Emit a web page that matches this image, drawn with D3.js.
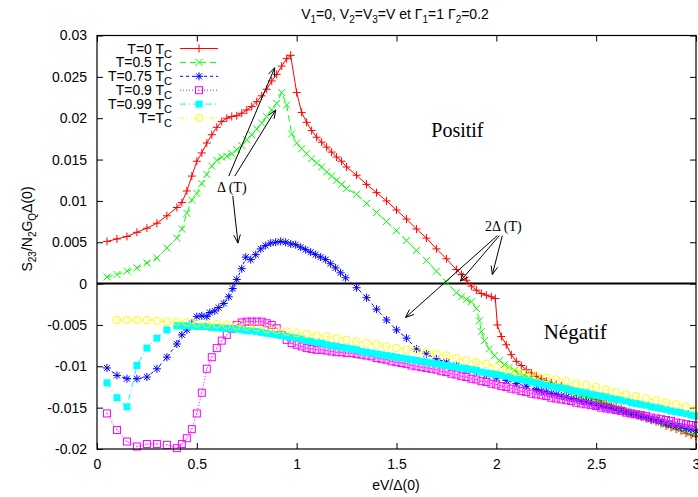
<!DOCTYPE html>
<html><head><meta charset="utf-8">
<script src="https://cdn.jsdelivr.net/npm/d3@7"></script>
<style>body{margin:0;background:#fff}svg{display:block}</style>
</head><body><svg id="c" width="698" height="497" font-family="Liberation Sans, Arial, sans-serif"></svg>
<script>
const xTicks=[0,0.5,1,1.5,2,2.5,3];
const yTicks=[-0.02,-0.015,-0.01,-0.005,0,0.005,0.01,0.015,0.02,0.025,0.03];
const seriesLabels=["T=0 T","T=0.5 T","T=0.75 T","T=0.9 T","T=0.99 T","T=T"];

const t0=[[0.05,0.0051],[0.10,0.0054],[0.15,0.0057],[0.20,0.0062],[0.25,0.0067],[0.30,0.0073],[0.35,0.0082],[0.40,0.0092],[0.425,0.0098],[0.45,0.0112],[0.475,0.0130],[0.50,0.0148],[0.525,0.0158],[0.55,0.0170],[0.575,0.0180],[0.60,0.0189],[0.625,0.0196],[0.65,0.0200],[0.675,0.0202],[0.70,0.0203],[0.725,0.0206],[0.75,0.0210],[0.775,0.0214],[0.80,0.0220],[0.825,0.0227],[0.85,0.0235],[0.875,0.0245],[0.90,0.0253],[0.925,0.0263],[0.95,0.0272],[0.97,0.0276],[1.00,0.0231],[1.025,0.0207],[1.05,0.0195],[1.075,0.0185],[1.10,0.0177],[1.125,0.0171],[1.15,0.0165],[1.175,0.0159],[1.20,0.0153],[1.225,0.0148],[1.25,0.0141],[1.30,0.0131],[1.35,0.0120],[1.40,0.0110],[1.45,0.0100],[1.50,0.0089],[1.55,0.0078],[1.60,0.0066],[1.65,0.0055],[1.70,0.0042],[1.75,0.0030],[1.80,0.0017],[1.825,0.0011],[1.85,0.0004],[1.875,-0.0003],[1.90,-0.0008],[1.925,-0.0012],[1.95,-0.0014],[1.975,-0.0016],[1.995,-0.0018],[2.005,-0.0050],[2.025,-0.0064],[2.05,-0.0074],[2.075,-0.0086],[2.10,-0.0094],[2.125,-0.0099],[2.15,-0.0104],[2.175,-0.0108],[2.20,-0.0112],[2.225,-0.0115],[2.25,-0.0118],[2.275,-0.0120],[2.30,-0.0122],[2.325,-0.0124],[2.35,-0.0127],[2.375,-0.0129],[2.40,-0.0131],[2.425,-0.0133],[2.45,-0.0136],[2.475,-0.0138],[2.50,-0.0140],[2.525,-0.0142],[2.55,-0.0145],[2.575,-0.0147],[2.60,-0.0149],[2.625,-0.0151],[2.65,-0.0154],[2.675,-0.0156],[2.70,-0.0158],[2.725,-0.0160],[2.75,-0.0163],[2.775,-0.0165],[2.80,-0.0167],[2.825,-0.0169],[2.85,-0.0172],[2.875,-0.0174],[2.90,-0.0176],[2.925,-0.0178],[2.95,-0.0181],[2.975,-0.0183],[3.00,-0.0185]];

const t05=[[0.05,0.0008],[0.10,0.0011],[0.15,0.0015],[0.20,0.0019],[0.25,0.0025],[0.30,0.0031],[0.35,0.0043],[0.40,0.0055],[0.425,0.0066],[0.45,0.0085],[0.475,0.0101],[0.50,0.0109],[0.525,0.0121],[0.55,0.0132],[0.575,0.0142],[0.60,0.0149],[0.625,0.0153],[0.65,0.0154],[0.675,0.0157],[0.70,0.0162],[0.725,0.0167],[0.75,0.0174],[0.775,0.0180],[0.80,0.0187],[0.825,0.0194],[0.85,0.0202],[0.875,0.0210],[0.90,0.0218],[0.925,0.0231],[0.95,0.0216],[0.975,0.0181],[1.00,0.0170],[1.025,0.0163],[1.05,0.0157],[1.075,0.0151],[1.10,0.0146],[1.125,0.0141],[1.15,0.0135],[1.175,0.0130],[1.20,0.0125],[1.225,0.0120],[1.25,0.0115],[1.30,0.0108],[1.35,0.0097],[1.40,0.0086],[1.45,0.0075],[1.50,0.0064],[1.55,0.0052],[1.60,0.0040],[1.65,0.0028],[1.70,0.0015],[1.75,0.0002],[1.80,-0.0011],[1.825,-0.0016],[1.85,-0.0019],[1.875,-0.0022],[1.90,-0.0030],[1.915,-0.0045],[1.925,-0.0058],[1.94,-0.0069],[1.965,-0.0079],[1.99,-0.0087],[2.015,-0.0093],[2.04,-0.0098],[2.065,-0.0101],[2.09,-0.0105],[2.115,-0.0108],[2.14,-0.0111],[2.165,-0.0114],[2.19,-0.0117],[2.225,-0.0120],[2.25,-0.0122],[2.275,-0.0124],[2.30,-0.0126],[2.325,-0.0128],[2.35,-0.0130],[2.375,-0.0132],[2.40,-0.0134],[2.425,-0.0136],[2.45,-0.0138],[2.475,-0.0140],[2.50,-0.0142],[2.525,-0.0144],[2.55,-0.0146],[2.575,-0.0148],[2.60,-0.0150],[2.625,-0.0152],[2.65,-0.0154],[2.675,-0.0156],[2.70,-0.0158],[2.725,-0.0160],[2.75,-0.0162],[2.775,-0.0164],[2.80,-0.0166],[2.825,-0.0168],[2.85,-0.0170],[2.875,-0.0172],[2.90,-0.0174],[2.925,-0.0176],[2.95,-0.0178],[2.975,-0.0180],[3.00,-0.0182]];

const t075=[[0.05,-0.0102],[0.10,-0.0111],[0.15,-0.0115],[0.20,-0.0115],[0.25,-0.0113],[0.30,-0.0103],[0.35,-0.0089],[0.40,-0.0073],[0.425,-0.0062],[0.45,-0.0056],[0.475,-0.0048],[0.50,-0.0040],[0.525,-0.0039],[0.55,-0.0040],[0.565,-0.0035],[0.59,-0.0033],[0.61,-0.0029],[0.635,-0.0024],[0.66,-0.0016],[0.68,-0.0006],[0.70,0.0005],[0.725,0.0018],[0.745,0.0032],[0.77,0.0029],[0.795,0.0035],[0.82,0.0042],[0.845,0.0046],[0.87,0.0049],[0.895,0.0050],[0.92,0.0051],[0.945,0.0050],[0.97,0.0048],[0.995,0.0047],[1.02,0.0044],[1.045,0.0041],[1.07,0.0038],[1.095,0.0035],[1.12,0.0032],[1.145,0.0029],[1.17,0.0024],[1.195,0.0019],[1.22,0.0013],[1.245,0.0007],[1.30,-0.0005],[1.35,-0.0017],[1.40,-0.0031],[1.45,-0.0044],[1.50,-0.0056],[1.55,-0.0066],[1.60,-0.0079],[1.65,-0.0085],[1.70,-0.0091],[1.75,-0.0095],[1.80,-0.0099],[1.85,-0.0103],[1.90,-0.0106],[1.95,-0.0110],[2.00,-0.0114],[2.05,-0.0117],[2.10,-0.0121],[2.15,-0.0124],[2.20,-0.0128],[2.225,-0.0130],[2.25,-0.0131],[2.275,-0.0133],[2.30,-0.0134],[2.325,-0.0136],[2.35,-0.0137],[2.375,-0.0139],[2.40,-0.0140],[2.425,-0.0142],[2.45,-0.0143],[2.475,-0.0145],[2.50,-0.0147],[2.525,-0.0148],[2.55,-0.0150],[2.575,-0.0151],[2.60,-0.0153],[2.625,-0.0154],[2.65,-0.0156],[2.675,-0.0158],[2.70,-0.0159],[2.725,-0.0161],[2.75,-0.0162],[2.775,-0.0164],[2.80,-0.0165],[2.825,-0.0167],[2.85,-0.0169],[2.875,-0.0170],[2.90,-0.0172],[2.925,-0.0173],[2.95,-0.0175],[2.975,-0.0176],[3.00,-0.0178]];

const t09=[[0.05,-0.0157],[0.10,-0.0177],[0.15,-0.0191],[0.20,-0.0197],[0.25,-0.0194],[0.30,-0.0194],[0.35,-0.0195],[0.40,-0.0199],[0.425,-0.0194],[0.45,-0.0187],[0.475,-0.0176],[0.50,-0.0157],[0.525,-0.0132],[0.55,-0.0103],[0.575,-0.0089],[0.60,-0.0078],[0.625,-0.0069],[0.65,-0.0062],[0.675,-0.0055],[0.70,-0.0050],[0.725,-0.0047],[0.75,-0.0046],[0.775,-0.0046],[0.80,-0.0046],[0.825,-0.0046],[0.85,-0.0048],[0.875,-0.0050],[0.90,-0.0054],[0.925,-0.0062],[0.95,-0.0068],[0.975,-0.0072],[1.00,-0.0074],[1.025,-0.0076],[1.05,-0.0078],[1.075,-0.0079],[1.10,-0.0080],[1.125,-0.0080],[1.15,-0.0081],[1.175,-0.0082],[1.20,-0.0083],[1.225,-0.0083],[1.25,-0.0084],[1.275,-0.0084],[1.30,-0.0085],[1.325,-0.0086],[1.35,-0.0087],[1.375,-0.0088],[1.40,-0.0090],[1.425,-0.0091],[1.45,-0.0092],[1.475,-0.0094],[1.50,-0.0095],[1.525,-0.0096],[1.55,-0.0097],[1.575,-0.0099],[1.60,-0.0100],[1.625,-0.0101],[1.65,-0.0102],[1.675,-0.0103],[1.70,-0.0104],[1.725,-0.0106],[1.75,-0.0107],[1.775,-0.0109],[1.80,-0.0110],[1.825,-0.0112],[1.85,-0.0113],[1.875,-0.0115],[1.90,-0.0116],[1.925,-0.0118],[1.95,-0.0119],[1.975,-0.0121],[2.00,-0.0122],[2.025,-0.0124],[2.05,-0.0125],[2.075,-0.0127],[2.10,-0.0128],[2.125,-0.0130],[2.15,-0.0131],[2.175,-0.0133],[2.20,-0.0134],[2.225,-0.0135],[2.25,-0.0136],[2.275,-0.0138],[2.30,-0.0139],[2.325,-0.0140],[2.35,-0.0141],[2.375,-0.0142],[2.40,-0.0144],[2.425,-0.0145],[2.45,-0.0146],[2.475,-0.0147],[2.50,-0.0148],[2.525,-0.0150],[2.55,-0.0151],[2.575,-0.0152],[2.60,-0.0153],[2.625,-0.0154],[2.65,-0.0156],[2.675,-0.0157],[2.70,-0.0158],[2.725,-0.0159],[2.75,-0.0160],[2.775,-0.0162],[2.80,-0.0163],[2.825,-0.0164],[2.85,-0.0165],[2.875,-0.0166],[2.90,-0.0168],[2.925,-0.0169],[2.95,-0.0170],[2.975,-0.0171],[3.00,-0.0172]];

const t099=[[0.05,-0.0120],[0.10,-0.0138],[0.15,-0.0149],[0.20,-0.0099],[0.25,-0.0078],[0.30,-0.0066],[0.35,-0.0056],[0.40,-0.0051],[0.425,-0.0051],[0.45,-0.0051],[0.475,-0.0051],[0.50,-0.0052],[0.525,-0.0052],[0.55,-0.0052],[0.575,-0.0053],[0.60,-0.0053],[0.625,-0.0054],[0.65,-0.0054],[0.675,-0.0055],[0.70,-0.0055],[0.725,-0.0056],[0.75,-0.0057],[0.775,-0.0057],[0.80,-0.0058],[0.825,-0.0059],[0.85,-0.0060],[0.875,-0.0061],[0.90,-0.0062],[0.925,-0.0063],[0.95,-0.0064],[0.975,-0.0065],[1.00,-0.0066],[1.025,-0.0067],[1.05,-0.0069],[1.075,-0.0070],[1.10,-0.0071],[1.125,-0.0072],[1.15,-0.0074],[1.175,-0.0075],[1.20,-0.0076],[1.225,-0.0077],[1.25,-0.0078],[1.275,-0.0079],[1.30,-0.0080],[1.325,-0.0082],[1.35,-0.0083],[1.375,-0.0084],[1.40,-0.0085],[1.425,-0.0086],[1.45,-0.0087],[1.475,-0.0088],[1.50,-0.0089],[1.525,-0.0090],[1.55,-0.0091],[1.575,-0.0092],[1.60,-0.0093],[1.625,-0.0094],[1.65,-0.0095],[1.675,-0.0096],[1.70,-0.0097],[1.725,-0.0098],[1.75,-0.0099],[1.775,-0.0100],[1.80,-0.0101],[1.825,-0.0102],[1.85,-0.0103],[1.875,-0.0104],[1.90,-0.0105],[1.925,-0.0107],[1.95,-0.0108],[1.975,-0.0109],[2.00,-0.0110],[2.025,-0.0111],[2.05,-0.0112],[2.075,-0.0114],[2.10,-0.0115],[2.125,-0.0116],[2.15,-0.0117],[2.175,-0.0119],[2.20,-0.0120],[2.225,-0.0121],[2.25,-0.0122],[2.275,-0.0124],[2.30,-0.0125],[2.325,-0.0126],[2.35,-0.0127],[2.375,-0.0129],[2.40,-0.0130],[2.425,-0.0131],[2.45,-0.0132],[2.475,-0.0134],[2.50,-0.0135],[2.525,-0.0136],[2.55,-0.0137],[2.575,-0.0139],[2.60,-0.0140],[2.625,-0.0141],[2.65,-0.0142],[2.675,-0.0144],[2.70,-0.0145],[2.725,-0.0146],[2.75,-0.0147],[2.775,-0.0149],[2.80,-0.0150],[2.825,-0.0151],[2.85,-0.0152],[2.875,-0.0154],[2.90,-0.0155],[2.925,-0.0156],[2.95,-0.0157],[2.975,-0.0159],[3.00,-0.0160]];

const t1=[[0.10,-0.0044],[0.15,-0.0044],[0.20,-0.0044],[0.25,-0.0044],[0.30,-0.0045],[0.35,-0.0046],[0.40,-0.0046],[0.45,-0.0047],[0.50,-0.0048],[0.55,-0.0049],[0.60,-0.0049],[0.65,-0.0050],[0.70,-0.0051],[0.75,-0.0052],[0.80,-0.0053],[0.85,-0.0055],[0.90,-0.0056],[0.95,-0.0058],[1.00,-0.0060],[1.05,-0.0061],[1.10,-0.0063],[1.15,-0.0064],[1.20,-0.0066],[1.25,-0.0068],[1.30,-0.0070],[1.35,-0.0072],[1.40,-0.0074],[1.45,-0.0076],[1.50,-0.0078],[1.55,-0.0080],[1.60,-0.0081],[1.65,-0.0083],[1.70,-0.0085],[1.75,-0.0087],[1.80,-0.0090],[1.85,-0.0093],[1.90,-0.0095],[1.95,-0.0097],[2.00,-0.0101],[2.05,-0.0104],[2.10,-0.0107],[2.15,-0.0109],[2.20,-0.0111],[2.25,-0.0114],[2.30,-0.0116],[2.35,-0.0118],[2.40,-0.0121],[2.45,-0.0123],[2.50,-0.0125],[2.55,-0.0128],[2.60,-0.0131],[2.65,-0.0134],[2.70,-0.0136],[2.75,-0.0139],[2.80,-0.0141],[2.85,-0.0144],[2.90,-0.0146],[2.95,-0.0149],[3.00,-0.0151]];

const deltaArrows=[[0.66,0.0130,0.89,0.0261],[0.69,0.0130,0.895,0.0210],[0.68,0.0106,0.706,0.0049]];
const twoDeltaArrows=[[2.005,0.0058,1.545,-0.0041],[2.015,0.0058,1.82,0.0003],[2.03,0.0058,1.98,0.0011]];

const seriesData=[t0,t05,t075,t09,t099,t1];
const colors=["#ff0000","#00ff00","#0000ff","#ff00ff","#00ffff","#ffff00"];
const dashes=[null,"6,4","3,3","1,2","6,3,1,3","4,3,1,3,1,3"];
const markers=["plus","cross","star","sqOpen","sqFill","circle"];

const svg=d3.select("#c");
const x=d3.scaleLinear().domain([0,3]).range([97,696]);
const y=d3.scaleLinear().domain([-0.02,0.03]).range([449,35.5]);

function rich(sel,parts,subSize){
  let prevSub=false;
  parts.forEach(([s,sub])=>{
    const t=sel.append("tspan").text(s);
    if(sub){t.attr("font-size",subSize).attr("dy",prevSub?0:4);}
    else if(prevSub){t.attr("dy",-4);}
    prevSub=!!sub;
  });
}

const fmtY=d=>d===0?"0":String(+d.toFixed(3));
const gL=svg.append("g").attr("transform",`translate(${x(0)},0)`).call(d3.axisLeft(y).tickValues(yTicks).tickSize(-6).tickPadding(10).tickFormat(fmtY));
const gR=svg.append("g").attr("transform",`translate(${x(3)},0)`).call(d3.axisRight(y).tickValues(yTicks).tickSize(-6).tickFormat(""));
const gB=svg.append("g").attr("transform",`translate(0,${y(-0.02)})`).call(d3.axisBottom(x).tickValues(xTicks).tickSize(-6).tickPadding(10).tickFormat(d=>String(d)));
const gT=svg.append("g").attr("transform",`translate(0,${y(0.03)})`).call(d3.axisTop(x).tickValues(xTicks).tickSize(-6).tickFormat(""));
[gL,gR,gB,gT].forEach(g=>{g.attr("font-family",null).attr("font-size",null);g.select(".domain").remove();g.selectAll("line").attr("stroke","#000");g.selectAll("text").attr("font-size",14).attr("fill","#000");});

svg.append("line").attr("x1",x(0)).attr("x2",x(3)).attr("y1",y(0)).attr("y2",y(0)).attr("stroke","#000").attr("stroke-width",2);

function marker(g,type,cx,cy,col){
  const s=4;
  if(type==="plus"){g.append("path").attr("d",`M${cx-s},${cy}H${cx+s}M${cx},${cy-s}V${cy+s}`).attr("stroke",col).attr("fill","none");}
  else if(type==="cross"){const c=3.5;g.append("path").attr("d",`M${cx-c},${cy-c}L${cx+c},${cy+c}M${cx-c},${cy+c}L${cx+c},${cy-c}`).attr("stroke",col).attr("fill","none");}
  else if(type==="star"){const c=3;g.append("path").attr("d",`M${cx-s},${cy}H${cx+s}M${cx},${cy-s}V${cy+s}M${cx-c},${cy-c}L${cx+c},${cy+c}M${cx-c},${cy+c}L${cx+c},${cy-c}`).attr("stroke",col).attr("fill","none");}
  else if(type==="sqOpen"){g.append("rect").attr("x",cx-3.5).attr("y",cy-3.5).attr("width",7).attr("height",7).attr("stroke",col).attr("fill","none");g.append("rect").attr("x",cx-0.5).attr("y",cy-0.5).attr("width",1).attr("height",1).attr("fill",col);}
  else if(type==="sqFill"){g.append("rect").attr("x",cx-3.5).attr("y",cy-3.5).attr("width",7).attr("height",7).attr("fill",col);}
  else if(type==="circle"){g.append("circle").attr("cx",cx).attr("cy",cy).attr("r",3.8).attr("stroke",col).attr("fill","none");}
}

const line=d3.line().x(d=>x(d[0])).y(d=>y(d[1]));
seriesData.forEach((data,i)=>{
  const g=svg.append("g");
  const p=g.append("path").datum(data).attr("d",line).attr("fill","none").attr("stroke",colors[i]).attr("stroke-width",1);
  if(dashes[i])p.attr("stroke-dasharray",dashes[i]);
  data.forEach(d=>marker(g,markers[i],x(d[0]),y(d[1]),colors[i]));
});

svg.append("rect").attr("x",x(0)).attr("y",y(0.03)).attr("width",x(3)-x(0)).attr("height",y(-0.02)-y(0.03)).attr("fill","none").attr("stroke","#000").attr("stroke-width",1.2);

const legX=172, legY0=48.5, legDy=13.9;
seriesLabels.forEach((lab,i)=>{
  const yy=legY0+i*legDy;
  const t=svg.append("text").attr("x",legX).attr("y",yy+5).attr("text-anchor","end").attr("font-size",14).attr("fill","#000");
  rich(t,[[lab,false],["C",true]],11);
  const l=svg.append("line").attr("x1",180).attr("x2",218).attr("y1",yy).attr("y2",yy).attr("stroke",colors[i]);
  if(dashes[i])l.attr("stroke-dasharray",dashes[i]);
  marker(svg,markers[i],199,yy,colors[i]);
});

const tt=svg.append("text").attr("x",395).attr("y",19).attr("text-anchor","middle").attr("font-size",14).attr("fill","#000");
rich(tt,[["V",false],["1",true],["=0, V",false],["2",true],["=V",false],["3",true],["=V et Γ",false],["1",true],["=1 Γ",false],["2",true],["=0.2",false]],10);

svg.append("text").attr("x",396).attr("y",490).attr("text-anchor","middle").attr("font-size",14).attr("fill","#000").text("eV/Δ(0)");
const yt=svg.append("text").attr("transform","translate(32,229) rotate(-90)").attr("text-anchor","middle").attr("font-size",14).attr("fill","#000");
rich(yt,[["S",false],["23",true],["/N",false],["2",true],["G",false],["Q",true],["Δ(0)",false]],10);

function arrow(a){
  const x1=x(a[0]),y1=y(a[1]),x2=x(a[2]),y2=y(a[3]);
  const ang=Math.atan2(y2-y1,x2-x1),L=9,th=0.38;
  svg.append("path").attr("d",`M${x1},${y1}L${x2},${y2}M${x2-L*Math.cos(ang-th)},${y2-L*Math.sin(ang-th)}L${x2},${y2}L${x2-L*Math.cos(ang+th)},${y2-L*Math.sin(ang+th)}`).attr("stroke","#000").attr("fill","none").attr("stroke-width",1);
}
deltaArrows.forEach(arrow);
twoDeltaArrows.forEach(arrow);
const serif="Liberation Serif, Times New Roman, serif";
svg.append("text").attr("x",x(0.675)).attr("y",y(0.0117)).attr("dy","0.35em").attr("text-anchor","middle").attr("font-family",serif).attr("font-size",14).text("Δ (T)");
svg.append("text").attr("x",x(2.035)).attr("y",y(0.0069)).attr("dy","0.35em").attr("text-anchor","middle").attr("font-family",serif).attr("font-size",14).text("2Δ (T)");
svg.append("text").attr("x",x(1.805)).attr("y",y(0.0186)).attr("dy","0.35em").attr("text-anchor","middle").attr("font-family",serif).attr("font-size",20).text("Positif");
svg.append("text").attr("x",x(2.395)).attr("y",y(-0.0058)).attr("dy","0.35em").attr("text-anchor","middle").attr("font-family",serif).attr("font-size",21).text("Négatif");
</script></body></html>
